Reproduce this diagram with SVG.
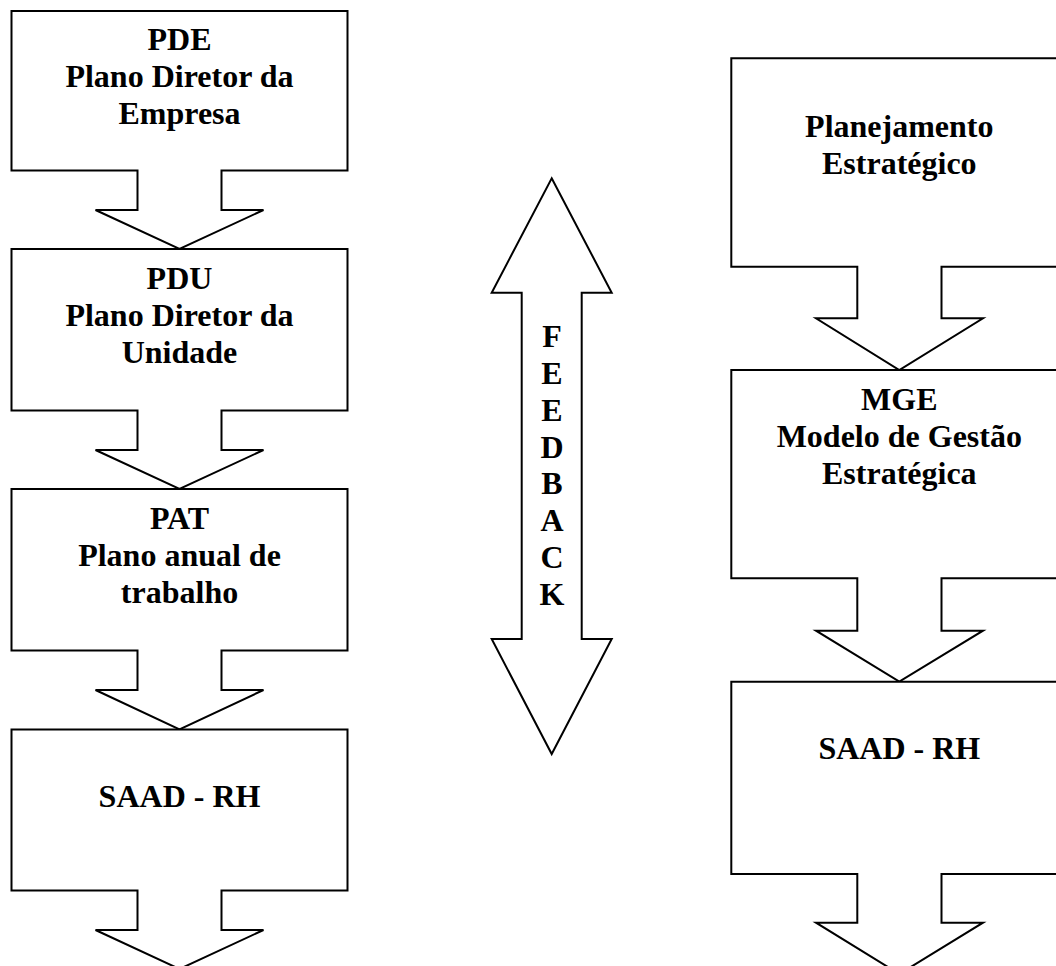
<svg xmlns="http://www.w3.org/2000/svg" width="1056" height="966" viewBox="0 0 1056 966">
  <style>
    .shape { fill: #ffffff; stroke: #000000; stroke-width: 2; stroke-linejoin: miter; }
    .label { font-family: "Liberation Serif", "Times New Roman", serif; font-weight: bold; font-size: 32px; fill: #000000; text-anchor: middle; }
  </style>
  <rect width="1056" height="966" fill="#ffffff"/>

  <!-- Left column: down-arrow callouts -->
  <g id="pde">
    <path class="shape" d="M11.5,11 H347.5 V170.5 H221.5 V210 H263.5 L179.5,249 L95.5,210 H137.5 V170.5 H11.5 Z"/>
    <text class="label" x="179.5" y="50">PDE</text>
    <text class="label" x="179.5" y="87">Plano Diretor da</text>
    <text class="label" x="179.5" y="124">Empresa</text>
  </g>
  <g id="pdu">
    <path class="shape" d="M11.5,249 H347.5 V410.5 H221.5 V450 H263.5 L179.5,489 L95.5,450 H137.5 V410.5 H11.5 Z"/>
    <text class="label" x="179.5" y="289">PDU</text>
    <text class="label" x="179.5" y="326">Plano Diretor da</text>
    <text class="label" x="179.5" y="363">Unidade</text>
  </g>
  <g id="pat">
    <path class="shape" d="M11.5,489 H347.5 V650.5 H221.5 V690 H263.5 L179.5,729.5 L95.5,690 H137.5 V650.5 H11.5 Z"/>
    <text class="label" x="179.5" y="529">PAT</text>
    <text class="label" x="179.5" y="566">Plano anual de</text>
    <text class="label" x="179.5" y="603">trabalho</text>
  </g>
  <g id="saad-left">
    <path class="shape" d="M11.5,729.5 H347.5 V890.5 H221.5 V930 H263.5 L179.5,969 L95.5,930 H137.5 V890.5 H11.5 Z"/>
    <text class="label" x="179.5" y="807">SAAD - RH</text>
  </g>

  <!-- Centre: two-headed feedback arrow -->
  <g id="feedback">
    <path class="shape" d="M551.7,178.3 L611.7,292.7 H581.7 V639 H611.7 L551.7,754 L491.7,639 H521.7 V292.7 H491.7 Z"/>
    <text class="label" x="552" y="347">F</text>
    <text class="label" x="552" y="384">E</text>
    <text class="label" x="552" y="421">E</text>
    <text class="label" x="552" y="458">D</text>
    <text class="label" x="552" y="494">B</text>
    <text class="label" x="552" y="531">A</text>
    <text class="label" x="552" y="568">C</text>
    <text class="label" x="552" y="605">K</text>
  </g>

  <!-- Right column: down-arrow callouts -->
  <g id="planejamento">
    <path class="shape" d="M731.3,58.3 H1067.3 V266.7 H941.5 V318.3 H983 L899.3,370 L816,318.3 H857.3 V266.7 H731.3 Z"/>
    <text class="label" x="899.3" y="137">Planejamento</text>
    <text class="label" x="899.3" y="174">Estratégico</text>
  </g>
  <g id="mge">
    <path class="shape" d="M731.3,370 H1067.3 V578.3 H941.5 V630.7 H983 L899.3,681.7 L816,630.7 H857.3 V578.3 H731.3 Z"/>
    <text class="label" x="899.3" y="410">MGE</text>
    <text class="label" x="899.3" y="447">Modelo de Gestão</text>
    <text class="label" x="899.3" y="484">Estratégica</text>
  </g>
  <g id="saad-right">
    <path class="shape" d="M731.3,681.7 H1067.3 V874 H941.5 V922.7 H983 L899.3,974 L816,922.7 H857.3 V874 H731.3 Z"/>
    <text class="label" x="899.3" y="759">SAAD - RH</text>
  </g>

  <g id="connectors"></g>
</svg>
